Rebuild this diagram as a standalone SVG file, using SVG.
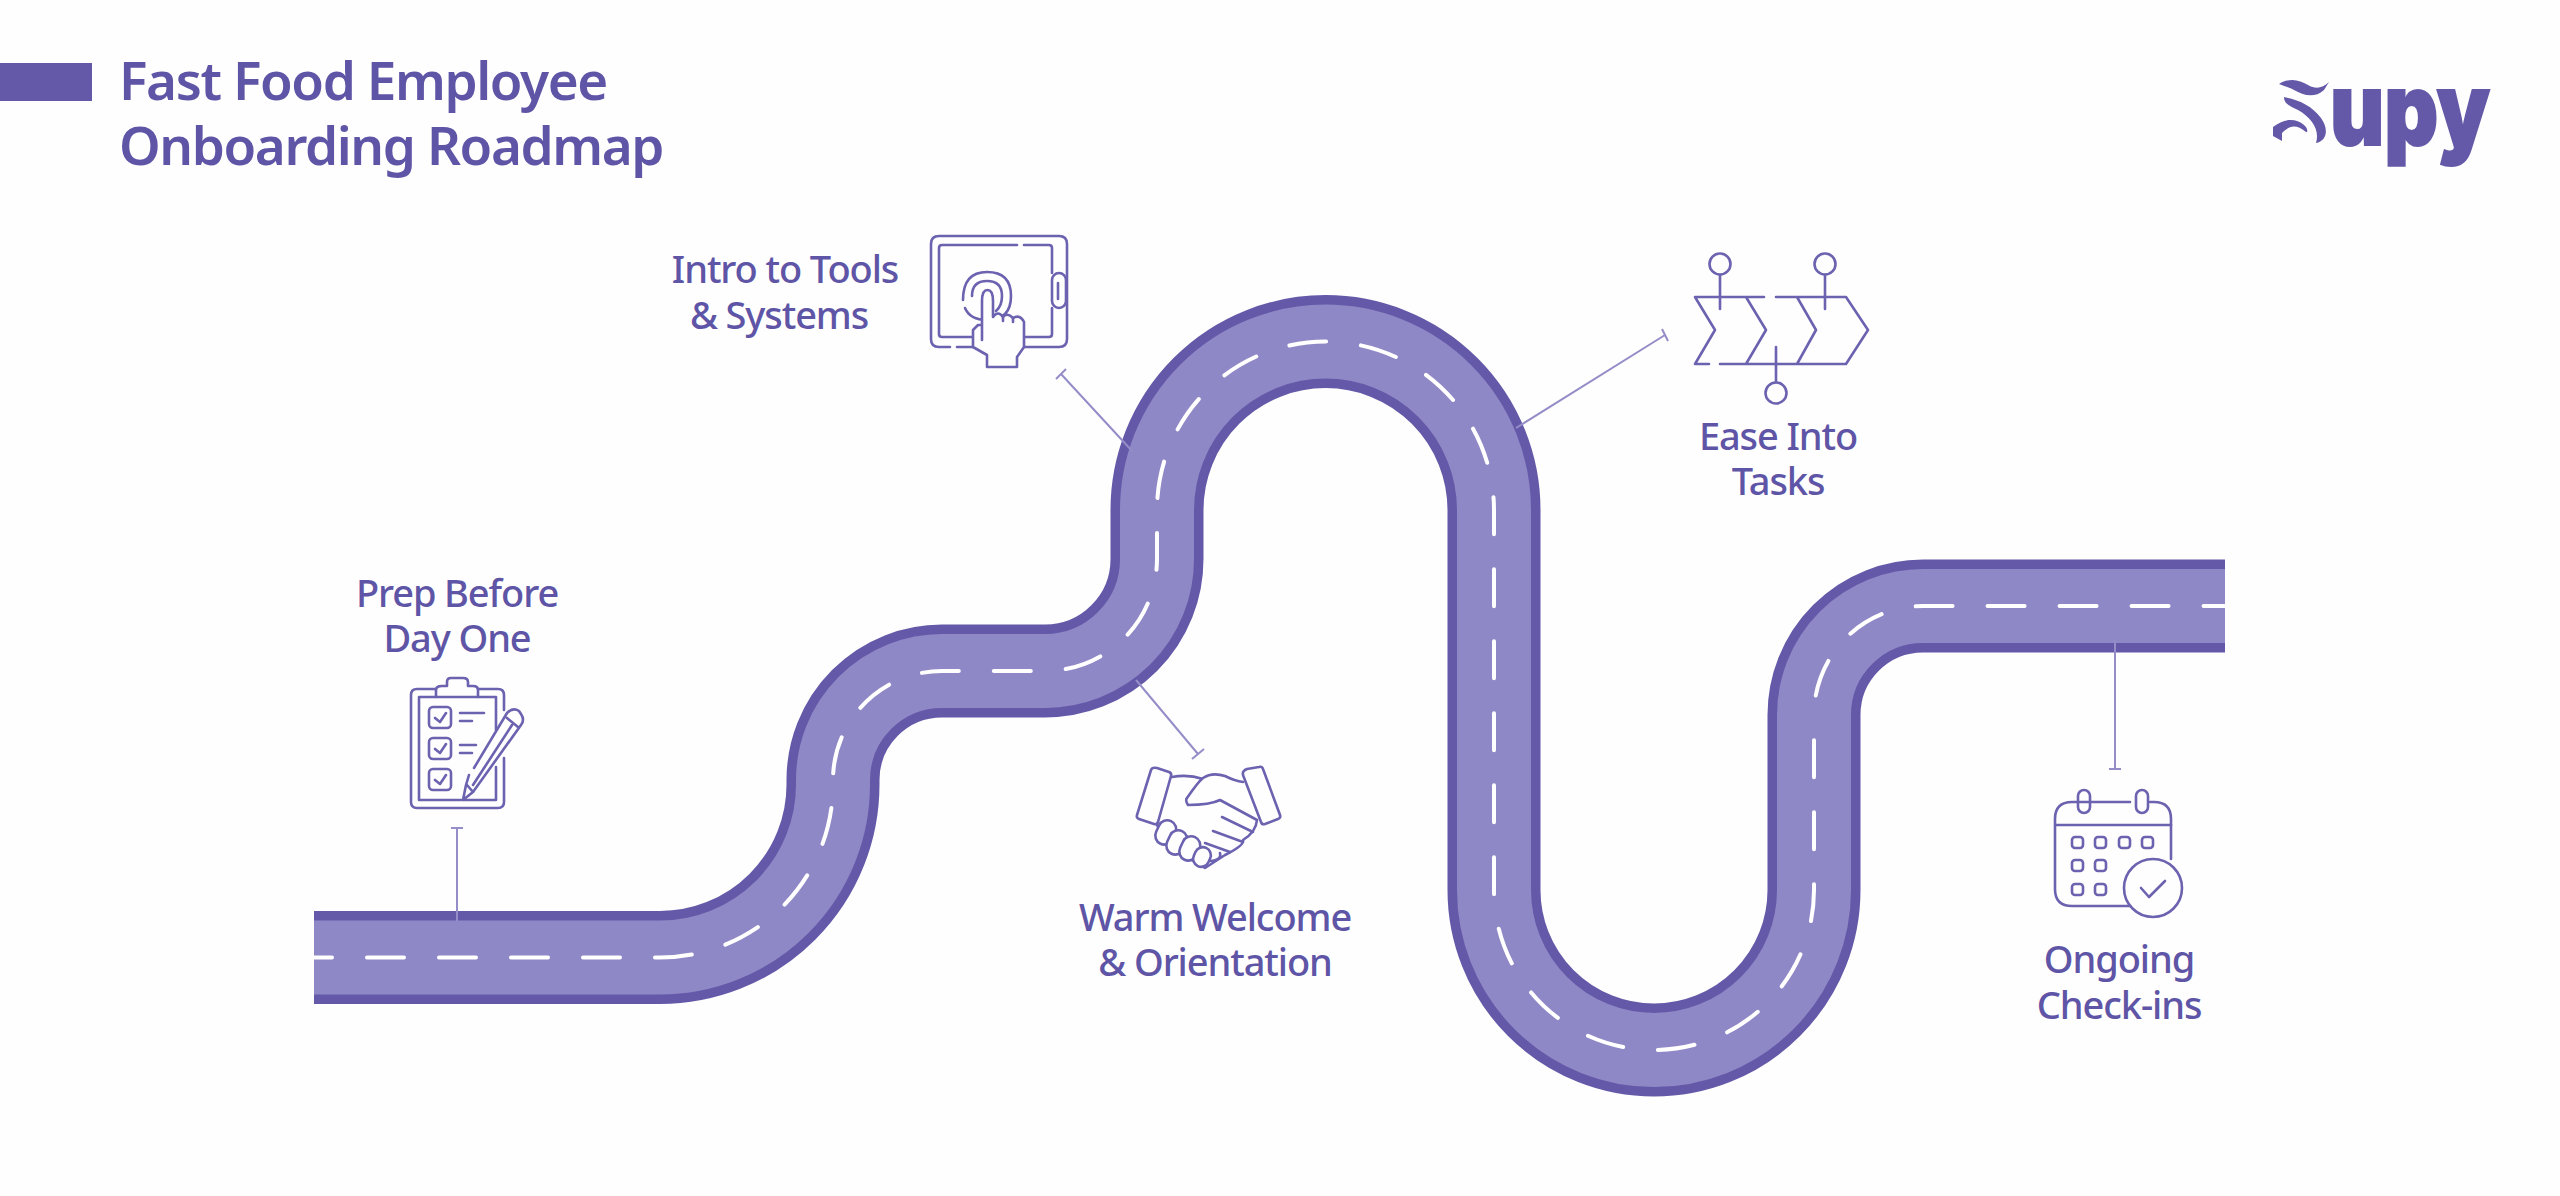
<svg xmlns="http://www.w3.org/2000/svg" width="2560" height="1196" viewBox="0 0 2560 1196">
<style>
.t{font-family:"Noto Sans","Open Sans",sans-serif;font-weight:500;fill:#5f55a6}
.h{font-size:53px;font-weight:600;letter-spacing:-1.4px}
.l{font-size:38px;letter-spacing:-1.1px;text-anchor:middle}
.i{fill:none;stroke:#6b62b0;stroke-width:2.6;stroke-linecap:round;stroke-linejoin:round}
.w{fill:#fefefe}
.c{fill:none;stroke:#948dc8;stroke-width:2}
.r{fill:none}
.d{stroke:#fff;stroke-width:4;stroke-linecap:round;stroke-dasharray:37 35}
</style>
<defs><path id="road" d="M314 957.500H660A173 173 0 0 0 833 784.500V780A109 109 0 0 1 942 671H1045A112 112 0 0 0 1157 559V510A168.500 168.500 0 0 1 1494 510V890A160 160 0 0 0 1814 890V715A109 109 0 0 1 1923 606H2225"/></defs>
<rect width="2560" height="1196" fill="#fefefe"/>
<g id="header">
<rect x="0" y="63" width="92" height="38" fill="#6459a8"/>
<text class="t h" x="119" y="100">Fast Food Employee</text>
<text class="t h" x="119" y="165">Onboarding Roadmap</text>
</g>
<g id="logo">
<path fill="#6459a8" d="M2279 84C2291 77 2299 80 2308 85C2315 89 2322 89 2329 82L2324 90C2314 99 2303 95 2294 90C2288 87 2284 86 2279 84ZM2284 97C2300 100 2312 106 2321 118C2329 129 2327 141 2316 143C2320 130 2312 118 2298 110C2290 106 2284 104 2284 97ZM2273 127C2284 118 2296 118 2304 125C2308 128 2308 133 2306 132C2296 124 2290 125 2282 133V141L2273 136Z"/>
<text x="2330" y="145" font-family="Inter,sans-serif" font-weight="900" font-size="100" fill="#6459a8" stroke="#6459a8" stroke-width="2" textLength="160" lengthAdjust="spacingAndGlyphs">upy</text>
</g>
<g id="road-group" class="r">
<use href="#road" stroke="#6459a8" stroke-width="93"/>
<use href="#road" stroke="#8f88c6" stroke-width="74"/>
<path class="d" stroke-dashoffset="19" d="M314 957.500H660A173 173 0 0 0 833 784.500V780A109 109 0 0 1 942 671H1045A112 112 0 0 0 1157 559V510A168.500 168.500 0 0 1 1494 510V890A160 160 0 0 0 1814 890V715"/>
<path class="d" stroke-dashoffset="52.400" d="M1814 715A109 109 0 0 1 1923 606H2225"/>
</g>
<g id="connectors">
<path class="c" d="M457 828V921M451 828H463"/>
<path class="c" d="M1061 374L1133 452M1056 379L1066 369"/>
<path class="c" d="M1136 680L1198 754M1192 759L1204 749"/>
<path class="c" d="M1516 428L1665 335M1662 329L1668 341"/>
<path class="c" d="M2115 640V769M2109 769H2121"/>
</g>
<g id="prep">
<text class="t l" x="457" y="607">Prep Before</text>
<text class="t l" x="457" y="652">Day One</text>
<g class="i">
<path d="M436 689H417Q411 689 411 695V802Q411 808 417 808H498Q504 808 504 802V758M504 710V695Q504 689 498 689H478"/>
<path d="M461 800H419V697H436M478 697H496V730M496 767V800H464"/>
<path d="M436 697V690Q436 686 442 686H447V682Q447 678 451 678H463Q468 678 468 682V686H473Q478 686 478 690V697Z"/>
<rect x="429" y="707" width="22" height="21" rx="4"/><rect x="429" y="738" width="22" height="21" rx="4"/><rect x="429" y="769" width="22" height="21" rx="4"/>
<path d="M435 718L440 722L446 713M435 749L440 753L446 744M435 780L440 784L446 775"/>
<path d="M460 713H484M460 721H472M460 745H476M460 753H472"/>
<path d="M474 768L507 713Q513 707 519 711L521 714Q525 720 521 725L473 792L463 800L466 785L469 775M467 785L473 792M473 785L512 725M507 718L518 727"/>
</g></g>
<g id="tools">
<text class="t l" x="785" y="283">Intro to Tools</text>
<text class="t l" x="779" y="329">&amp; Systems</text>
<g class="i">
<path d="M950 347H939Q931 347 931 339V244Q931 236 939 236H1059Q1067 236 1067 244V339Q1067 347 1059 347H1024M957 347H973"/>
<path d="M973 337H942Q939 337 939 334V248Q939 245 942 245H1017M1024 245H1049Q1052 245 1052 248V273M1052 308V334Q1052 337 1049 337H1024"/>
<rect x="1052" y="273" width="14" height="35" rx="7"/><path d="M1058 283V299"/>
<path d="M963 300Q963 272 987 272Q1011 272 1011 296Q1011 320 987 320Q970 320 965 308"/>
<path d="M972 296Q972 281 987 281Q1002 281 1002 296Q1002 306 996 311"/>
<path class="w" d="M982 340V301Q982 290 987.500 290Q993 290 993 301V317Q998 310 1003 317Q1007 312 1013 318Q1020 314 1024 322V347L1017 357V367H987V355L973 347V330L978 325H982Z"/>
<path d="M1003 317V321M1013 318V322"/>
</g></g>
<g id="welcome">
<text class="t l" x="1215" y="931">Warm Welcome</text>
<text class="t l" x="1215" y="976">&amp; Orientation</text>
<g class="i">
<path d="M1172 777Q1188 774 1203 779"/>
<path class="w" d="M1157 825L1168 846L1205 868L1225 855Q1245 845 1243 840Q1256 832 1257 820L1220 800Q1210 805 1188 805Q1185 800 1187 798Q1198 782 1203 778Q1212 772 1225 776Q1235 781 1243 782"/>
<path d="M1222 817L1253 832M1213 831L1243 842M1205 843L1230 852M1220 853Q1222 860 1210 861"/>
<path d="M1157 768L1169 772Q1172 773 1171 776L1158 822Q1157 825 1154 824L1139 819Q1136 818 1137 815L1151 770Q1152 767 1157 768Z"/>
<path d="M1247 769L1259 767Q1262 766 1263 769L1280 815Q1281 818 1278 819L1265 824Q1262 825 1261 822L1243 775Q1242 771 1247 769Z"/>
<rect class="w" x="1157" y="820" width="18" height="25" rx="9" transform="rotate(25 1166 832)"/>
<rect class="w" x="1168" y="830" width="18" height="25" rx="9" transform="rotate(25 1177 842)"/>
<rect class="w" x="1181" y="836" width="18" height="25" rx="9" transform="rotate(25 1190 848)"/>
<rect class="w" x="1194" y="847" width="16" height="20" rx="8" transform="rotate(25 1202 857)"/>
</g></g>
<g id="ease">
<text class="t l" x="1778" y="450">Ease Into</text>
<text class="t l" x="1778" y="495">Tasks</text>
<g class="i">
<circle cx="1720" cy="264" r="10.500"/><circle cx="1825" cy="264" r="10.500"/><circle cx="1776" cy="393" r="10.500"/>
<path d="M1720 275V309M1825 275V309M1776 347V382"/>
<path d="M1764 297H1695L1715 330L1695 364H1709M1720 364H1846L1868 330L1846 297H1776M1746 297L1766 330L1746 364M1797 297L1816 330L1797 364"/>
</g></g>
<g id="checkins">
<text class="t l" x="2119" y="973">Ongoing</text>
<text class="t l" x="2119" y="1019">Check-ins</text>
<g class="i">
<path d="M2130 802H2072Q2055 802 2055 819V889Q2055 906 2072 906H2130M2171 859V819Q2171 802 2154 802H2150M2114 802H2090M2084 802H2072"/>
<path d="M2056 825H2171"/>
<rect x="2078" y="790" width="12" height="23" rx="6"/><rect x="2136" y="790" width="12" height="23" rx="6"/>
<rect x="2072" y="837" width="11" height="11" rx="3"/><rect x="2095" y="837" width="11" height="11" rx="3"/><rect x="2119" y="837" width="11" height="11" rx="3"/><rect x="2142" y="837" width="11" height="11" rx="3"/>
<rect x="2072" y="860" width="11" height="11" rx="3"/><rect x="2095" y="860" width="11" height="11" rx="3"/>
<rect x="2072" y="884" width="11" height="11" rx="3"/><rect x="2095" y="884" width="11" height="11" rx="3"/>
<circle class="w" cx="2153" cy="888" r="29"/>
<path d="M2141 888L2149 897L2165 881"/>
</g></g>
</svg>
